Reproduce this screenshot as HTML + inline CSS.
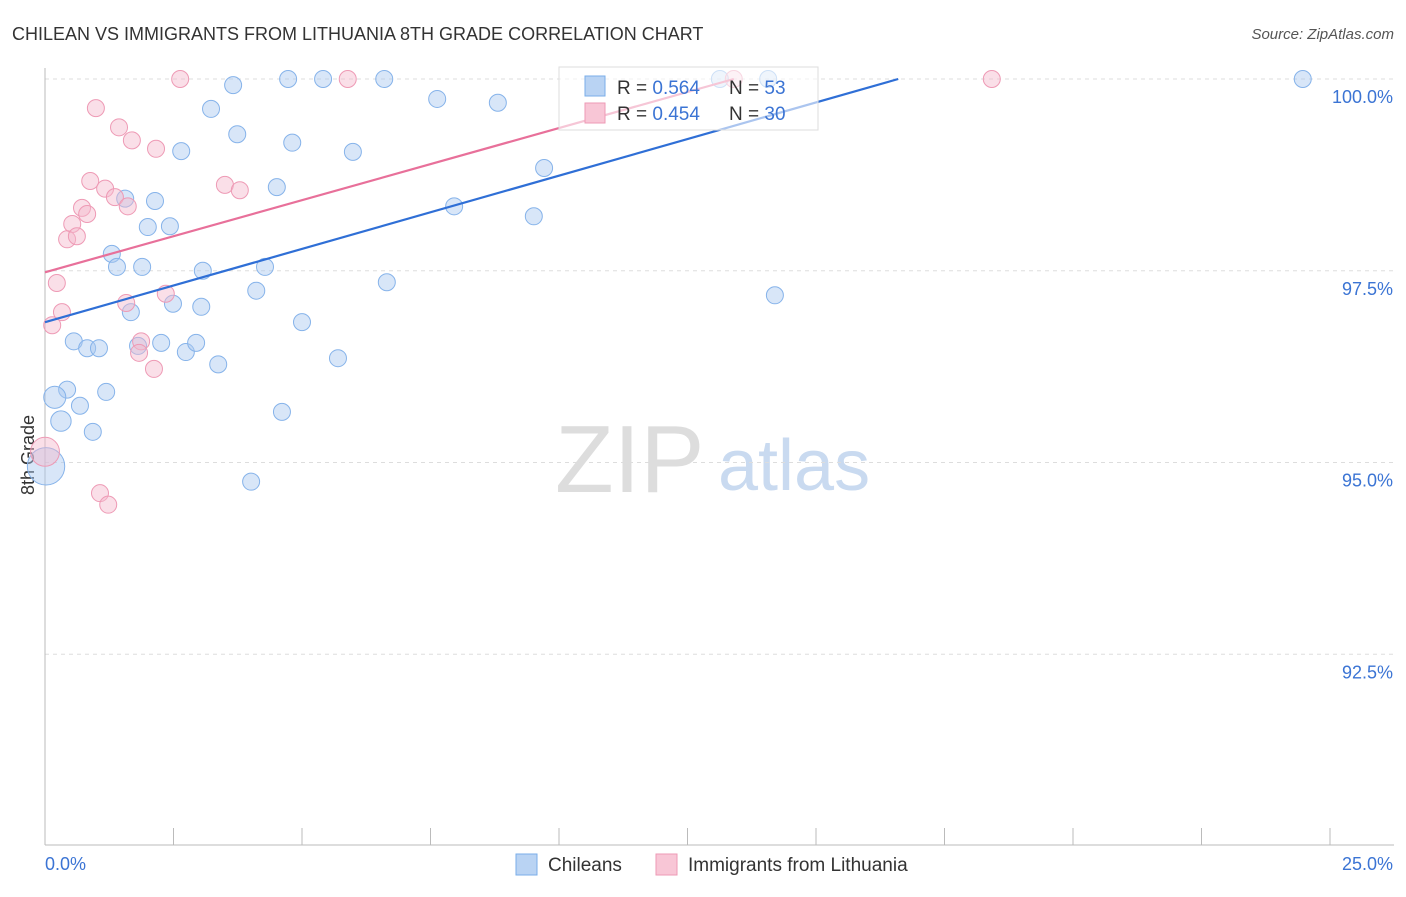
<!DOCTYPE html>
<html><head><meta charset="utf-8"><style>
body{margin:0;background:#fff;font-family:"Liberation Sans",sans-serif;}
svg text{font-family:"Liberation Sans",sans-serif;}
</style></head><body>
<svg id="chart" width="1406" height="892" xmlns="http://www.w3.org/2000/svg">
<text x="12" y="40" font-size="18" fill="#333">CHILEAN VS IMMIGRANTS FROM LITHUANIA 8TH GRADE CORRELATION CHART</text>
<text x="1394" y="39" font-size="15" fill="#555" font-style="italic" text-anchor="end">Source: ZipAtlas.com</text>
<text x="34" y="455" font-size="18" fill="#333" text-anchor="middle" transform="rotate(-90 34 455)">8th Grade</text>
<text x="555" y="492" font-size="96" fill="#ddd" font-family="Liberation Serif">ZIP</text>
<text x="718" y="490" font-size="72" fill="#c9daf0">atlas</text>
<g id="grid"></g><g id="axes"></g><g id="pts"></g><g id="lines"></g>
<g>
<rect x="559" y="67" width="259" height="63" fill="rgba(255,255,255,0.6)" stroke="#ddd"/>
<rect x="585" y="76" width="20" height="20" fill="#b9d3f3" stroke="#7aaee8"/>
<rect x="585" y="103" width="20" height="20" fill="#f8c6d6" stroke="#ee9ab5"/>
<text x="617" y="94" font-size="19" fill="#333">R = <tspan fill="#3b74d4">0.564</tspan></text>
<text x="729" y="94" font-size="19" fill="#333">N = <tspan fill="#3b74d4">53</tspan></text>
<text x="617" y="120" font-size="19" fill="#333">R = <tspan fill="#3b74d4">0.454</tspan></text>
<text x="729" y="120" font-size="19" fill="#333">N = <tspan fill="#3b74d4">30</tspan></text>
</g>
<g>
<rect x="516" y="854" width="21" height="21" fill="#b9d3f3" stroke="#7aaee8"/>
<text x="548" y="871" font-size="19" fill="#333">Chileans</text>
<text x="688" y="871" font-size="19" fill="#333">Immigrants from Lithuania</text>
<rect x="656" y="854" width="21" height="21" fill="#f8c6d6" stroke="#ee9ab5"/>
</g>
</svg>
<script>
const xTicks=[0,2.5,5,7.5,10,12.5,15,17.5,20,22.5,25];
const yTicks=[100,97.5,95,92.5];
const yTickLabels=["100.0%","97.5%","95.0%","92.5%"];
const xEndLabels=["0.0%","25.0%"];
const blueX=[3.66,4.73,5.41,6.60,13.13,14.07,24.47,3.23,7.63,8.81,3.74,2.65,4.81,5.99,9.71,4.51,2.14,1.56,2.00,2.43,7.96,9.51,1.30,1.40,1.89,3.07,4.28,4.11,6.65,14.20,2.49,3.04,1.67,5.00,0.56,0.82,1.05,1.81,2.26,2.74,2.94,3.37,5.70,0.43,1.19,0.19,0.68,0.31,0.93,4.61,0.02,4.01];
const blueY=[99.92,100,100,100,100,100,100,99.61,99.74,99.69,99.28,99.06,99.17,99.05,98.84,98.59,98.41,98.44,98.07,98.08,98.34,98.21,97.72,97.55,97.55,97.50,97.55,97.24,97.35,97.18,97.07,97.03,96.96,96.83,96.58,96.49,96.49,96.52,96.56,96.44,96.56,96.28,96.36,95.95,95.92,95.85,95.74,95.54,95.40,95.66,94.95,94.75];
const blueSize=[1,1,1,1,1,1,1,1,1,1,1,1,1,1,1,1,1,1,1,1,1,1,1,1,1,1,1,1,1,1,1,1,1,1,1,1,1,1,1,1,1,1,1,1,1,1.3,1,1.2,1,1,2.2,1];
const pinkX=[2.63,5.89,13.40,18.42,0.99,1.44,1.69,2.16,0.88,1.17,1.36,1.61,3.50,3.79,0.72,0.82,0.53,0.43,0.62,0.23,0.33,0.14,1.58,2.35,1.87,1.83,2.12,1.07,1.23,0.0];
const pinkY=[100,100,100,100,99.62,99.37,99.20,99.09,98.67,98.57,98.46,98.34,98.62,98.55,98.32,98.24,98.11,97.91,97.95,97.34,96.96,96.79,97.08,97.20,96.58,96.43,96.22,94.60,94.45,95.14];
const pinkSize=[1,1,1,1,1,1,1,1,1,1,1,1,1,1,1,1,1,1,1,1,1,1,1,1,1,1,1,1,1,1.7];
const blueLine=[0,96.83,16.6,100];
const pinkLine=[0,97.48,13.4,100];
const X=v=>45+v*51.4, Y=v=>79+(100-v)*76.7;
const NS="http://www.w3.org/2000/svg";
function mk(t,a,p){const e=document.createElementNS(NS,t);for(const k in a)e.setAttribute(k,a[k]);p.appendChild(e);return e;}
const grid=document.getElementById('grid'),axes=document.getElementById('axes'),pts=document.getElementById('pts'),lines=document.getElementById('lines');
yTicks.forEach((t,i)=>{
 const l=mk('line',{x1:45,x2:1394,y1:Y(t),y2:Y(t),stroke:'#ddd','stroke-dasharray':'4,4'},grid);
 
 
 const tx=mk('text',{x:1393,y:Y(t)+24,'font-size':18,fill:'#3b74d4','text-anchor':'end'},axes);
 tx.textContent=yTickLabels[i];
 
 
});
const ax=mk('line',{x1:45,x2:45,y1:68,y2:845,stroke:'#bbb'},axes);


const bx=mk('line',{x1:45,x2:1394,y1:845,y2:845,stroke:'#bbb'},axes);


xTicks.forEach(t=>{
 const l=mk('line',{x1:X(t),x2:X(t),y1:828,y2:845,stroke:'#bbb'},axes);
 
 
});
const xl0=mk('text',{x:45,y:870,'font-size':18,fill:'#3b74d4'},axes);xl0.textContent=xEndLabels[0];


const xl1=mk('text',{x:1393,y:870,'font-size':18,fill:'#3b74d4','text-anchor':'end'},axes);xl1.textContent=xEndLabels[1];


blueX.forEach((v,i)=>{
 const c=mk('circle',{cx:X(v),cy:Y(blueY[i]),r:8.5*blueSize[i],fill:'rgba(169,200,240,0.45)',stroke:'#86b3ea','stroke-width':1},pts);
 
 
});
pinkX.forEach((v,i)=>{
 const c=mk('circle',{cx:X(v),cy:Y(pinkY[i]),r:8.5*pinkSize[i],fill:'rgba(245,184,203,0.45)',stroke:'#ee9ab5','stroke-width':1},pts);
 
 
});
const bl=mk('line',{x1:X(blueLine[0]),y1:Y(blueLine[1]),x2:X(blueLine[2]),y2:Y(blueLine[3]),stroke:'#2f6fd6','stroke-width':2.2},lines);


const pl=mk('line',{x1:X(pinkLine[0]),y1:Y(pinkLine[1]),x2:X(pinkLine[2]),y2:Y(pinkLine[3]),stroke:'#e8709a','stroke-width':2.2},lines);


</script>
</body></html>
